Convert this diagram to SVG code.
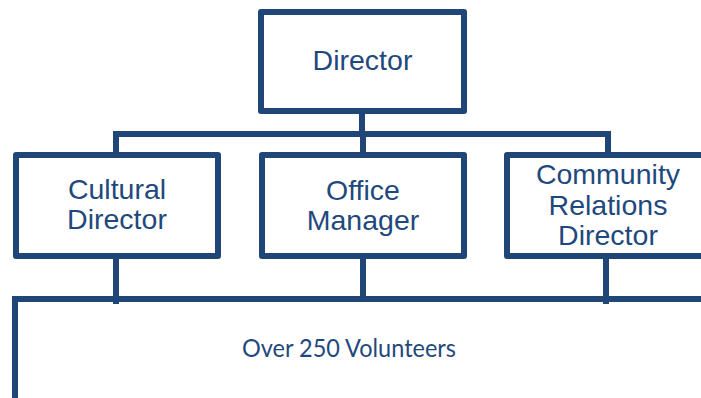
<svg xmlns="http://www.w3.org/2000/svg" width="701" height="398" viewBox="0 0 701 398">
  <style>
    .box { fill: #ffffff; stroke: #1F4677; stroke-width: 6; stroke-linejoin: round; }
    .link { fill: none; stroke: #1F4677; stroke-width: 6; stroke-linecap: butt; }
    .label { font-family: "Liberation Sans", Arial, sans-serif; font-size: 28.5px; fill: #1F497D; text-anchor: middle; }
    .note { font-family: Lato, "Open Sans", sans-serif; font-size: 25px; fill: #1F497D; }
  </style>
  <rect width="701" height="398" fill="#ffffff"/>

  <!-- connectors -->
  <g id="connectors">
    <path class="link" d="M362 111 V134"/>
    <path class="link" d="M116 155 V134 H608 V155"/>
    <path class="link" d="M363 134 V155"/>
    <path class="link" d="M116 256 V304"/>
    <path class="link" d="M363 256 V299"/>
    <path class="link" d="M606 256 V304"/>
    <path class="link" d="M15 398 V299 H701"/>
  </g>

  <g id="director">
    <rect class="box" x="261" y="12" width="203" height="99"/>
    <text class="label" x="362.5" y="70">Director</text>
  </g>

  <g id="cultural-director">
    <rect class="box" x="16" y="155" width="202" height="101"/>
    <text class="label" x="117" y="199">Cultural</text>
    <text class="label" x="117" y="229">Director</text>
  </g>

  <g id="office-manager">
    <rect class="box" x="262" y="155" width="202" height="101"/>
    <text class="label" x="363" y="200">Office</text>
    <text class="label" x="363" y="230">Manager</text>
  </g>

  <g id="community-relations-director">
    <rect class="box" x="507" y="155" width="220" height="101"/>
    <text class="label" x="608" y="184">Community</text>
    <text class="label" x="608" y="215">Relations</text>
    <text class="label" x="608" y="245">Director</text>
  </g>

  <g id="volunteers">
    <text class="note" x="242" y="357" textLength="214" lengthAdjust="spacingAndGlyphs">Over 250 Volunteers</text>
  </g>
</svg>
